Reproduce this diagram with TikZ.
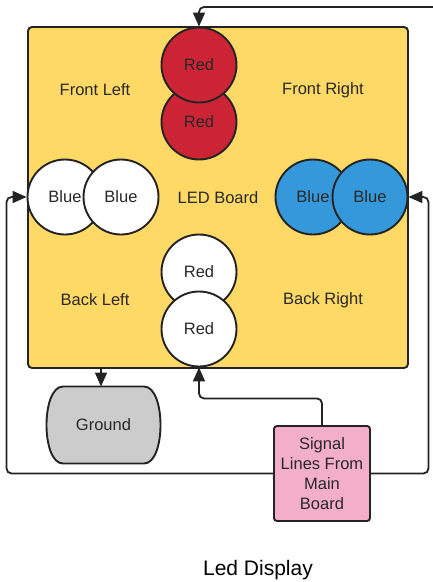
\documentclass[tikz,border=0pt]{standalone}
\usepackage{fontspec}
\setmainfont{Liberation Sans}
\usetikzlibrary{arrows.meta,calc}
\definecolor{boardc}{RGB}{255,217,102}
\definecolor{redc}{RGB}{204,36,52}
\definecolor{bluec}{RGB}{52,152,219}
\definecolor{grayc}{RGB}{204,204,204}
\definecolor{pinkc}{RGB}{244,175,200}
\definecolor{linec}{RGB}{35,35,35}
\definecolor{textc}{RGB}{40,40,40}
\begin{document}
\begin{tikzpicture}[x=1pt,y=-1pt,
  every node/.style={font=\fontsize{16.5}{20}\selectfont, text=textc},
  led/.style={circle, draw=linec, line width=1.9pt, minimum size=75pt, inner sep=0pt},
  shapeline/.style={draw=linec, line width=1.9pt},
  conn/.style={draw=linec, line width=1.8pt, rounded corners=5pt},
  arr/.style={conn, -{Triangle[length=14pt,width=12pt]}},
  lbl/.style={inner sep=0pt}]
\useasboundingbox (0,0) rectangle (433,582);
\node[shapeline, fill=boardc, rounded corners=4pt,
      minimum width=380pt, minimum height=341pt] (board) at (218,197.5) {LED Board};
\node[lbl] (fl) at (95,90) {Front Left};
\node[lbl] (fr) at (323,90) {Front Right};
\node[lbl] (bl) at (95,300) {Back Left};
\node[lbl] (br) at (323,300) {Back Right};
% red top pair
\node[led, fill=redc] (red2) at (199,122) {Red};
\node[led, fill=redc] (red1) at (199,65) {Red};
% red bottom pair
\node[led, fill=white] (red3) at (199,272) {Red};
\node[led, fill=white] (red4) at (199,329) {Red};
% white pair
\node[led, fill=white] (wb1) at (65,197) {Blue};
\node[led, fill=white] (wb2) at (121,197) {Blue};
% blue pair
\node[led, fill=bluec] (bb1) at (313,197) {Blue};
\node[led, fill=bluec] (bb2) at (370,197) {Blue};
% ground outline (curved sides)
\draw[shapeline, fill=grayc] (63,386.5) -- (144,386.5)
  .. controls (166,386.5) and (166,463.5) .. (144,463.5) -- (63,463.5)
  .. controls (41,463.5) and (41,386.5) .. (63,386.5) -- cycle;
\node[minimum width=115pt, minimum height=77pt] (gnd) at (103.5,425) {Ground};
\node[shapeline, fill=pinkc, rounded corners=3pt,
      minimum width=96pt, minimum height=95pt, align=center, inner sep=1pt] (sig) at (322,473.5)
      {Signal\\Lines From\\Main\\Board};
\node[font=\fontsize{21}{24}\selectfont, text=black] (title) at (258,570) {Led Display};
% connectors
\coordinate (topin) at (433,7);
\draw[arr] (topin) -| (red1.north);
\draw[arr] (sig.west) -| ($(wb1.west)+(-20,0)$) -- (wb1.west);
\draw[arr] (sig.east) -| ($(bb2.east)+(20,0)$) -- (bb2.east);
\draw[arr] (sig.north) |- ($(red4.south)+(0,31)$) -- (red4.south);
\draw[arr] (board.south -| 101,0) -- (101,386.5);
\end{tikzpicture}
\end{document}
